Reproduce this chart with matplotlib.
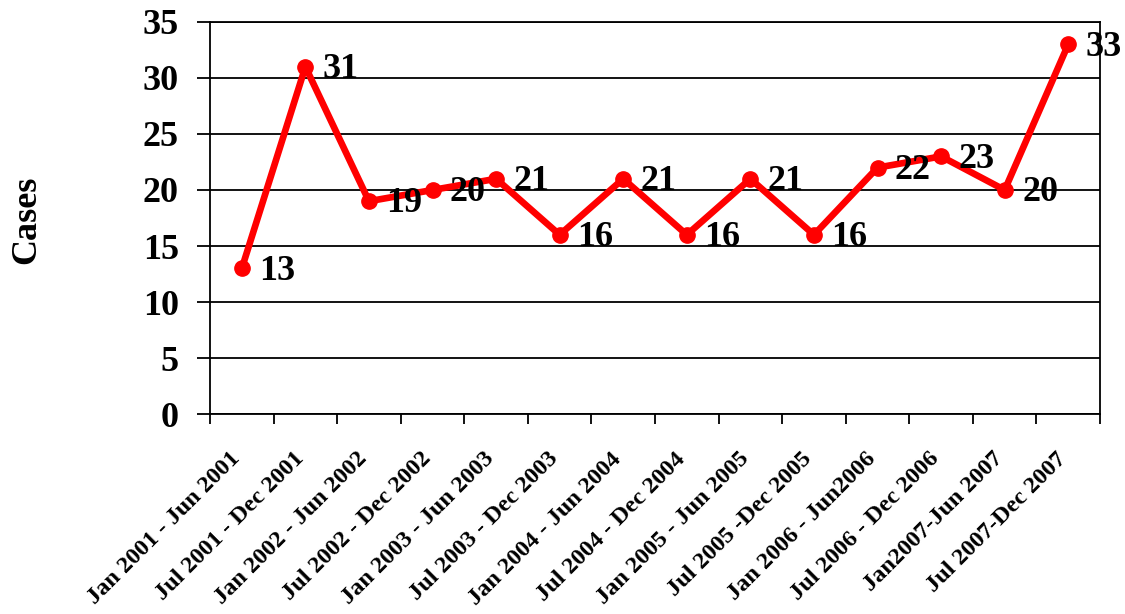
import matplotlib
matplotlib.use("Agg")
import matplotlib.pyplot as plt
import matplotlib.transforms as mtransforms
import numpy as np

periods = [
    "Jan 2001 - Jun 2001", "Jul 2001 - Dec 2001", "Jan 2002 - Jun 2002",
    "Jul 2002 - Dec 2002", "Jan 2003 - Jun 2003", "Jul 2003 - Dec 2003",
    "Jan 2004 - Jun 2004", "Jul 2004 - Dec 2004", "Jan 2005 - Jun 2005",
    "Jul 2005 -Dec 2005", "Jan 2006 - Jun2006", "Jul 2006 - Dec 2006",
    "Jan2007-Jun 2007", "Jul 2007-Dec 2007",
]
cases = [13, 31, 19, 20, 21, 16, 21, 16, 21, 16, 22, 23, 20, 33]

plt.rcParams["font.family"] = ["Liberation Serif", "DejaVu Serif"]
plt.rcParams["font.weight"] = "bold"

fig = plt.figure(figsize=(11.25, 6.14), dpi=100)
ax = fig.add_axes([0.1867, 0.3257, 0.7911, 0.6385])

x = np.arange(len(cases))
ax.plot(x, cases, color="red", lw=4.8, marker="o", ms=11, zorder=3, clip_on=False)

for xi, yi in zip(x, cases):
    ax.annotate(str(yi), (xi, yi), xytext=(12.5, -2), textcoords="offset points",
                ha="left", va="center", fontsize=26, fontweight="bold")

ax.set_xlim(-0.5, len(cases) - 0.5)
ax.set_ylim(0, 35)
ax.set_yticks(np.arange(0, 36, 5))
ax.yaxis.grid(True, color="black", lw=1.3)
ax.set_axisbelow(True)

# labels at category centres, tick marks on the category boundaries
ax.set_xticks(x)
ax.set_xticklabels(periods, rotation=45, ha="right", va="center",
                   rotation_mode="anchor", fontsize=17.5, fontweight="bold")
ax.set_xticks(np.arange(-0.5, len(cases)), minor=True)
ax.tick_params(axis="x", which="major", length=0, pad=30)
ax.tick_params(axis="x", which="minor", length=7, width=1.3, direction="out")
shift = mtransforms.ScaledTranslation(-0.05, 0, fig.dpi_scale_trans)
for lab in ax.get_xticklabels():
    lab.set_transform(lab.get_transform() + shift)

ax.tick_params(axis="y", length=9.5, width=1.3, direction="out", labelsize=26, pad=13)
for lab in ax.get_yticklabels():
    lab.set_fontweight("bold")

for s in ax.spines.values():
    s.set_linewidth(1.3)
    s.set_color("black")

ax.set_ylabel("Cases", fontsize=26, fontweight="bold")
ax.yaxis.set_label_coords(-0.187, 0.495)

fig.savefig("out.png", dpi=100)
